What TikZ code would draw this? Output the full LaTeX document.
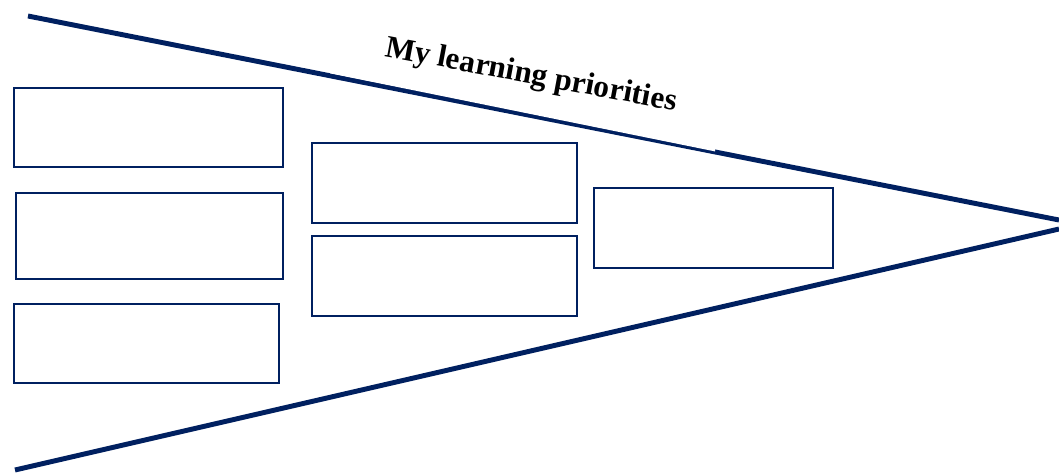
\documentclass[tikz,border=0pt]{standalone}
\usepackage{fontspec}
\setmainfont{Liberation Serif}
\usetikzlibrary{fit}
\definecolor{navy}{HTML}{002060}
\tikzset{
  box/.style={draw=navy, line width=1.5pt, inner sep=0pt, fill=none},
  rail/.style={draw=navy, line width=3.7pt, line cap=butt},
  title/.style={font=\bfseries\fontsize{23.5}{25}\selectfont, text=black, inner sep=0pt}
}
\begin{document}
\begin{tikzpicture}[x=0.75pt,y=-0.75pt]
\useasboundingbox[fill=white] (0,0) rectangle (1059,472);
% converging lines
\coordinate (ts) at (28,16);
\coordinate (te) at (1059,220);
\coordinate (bs) at (15,470);
\coordinate (be) at (1059,229);
\draw[rail] (ts) -- (te);
\draw[rail] (bs) -- (be);
% the title's white box clips the top of the upper line a little
\coordinate (w1) at (330,73.3);
\coordinate (w2) at (715,151.4);
\coordinate (w3) at (715,140);
\coordinate (w4) at (330,65);
\fill[white] (w1) -- (w2) -- (w3) -- (w4) -- cycle;
% title
\node[title, anchor=base west, rotate=-10.7] (t) at (384,56) {My learning priorities};
% boxes
\node[box, fit={(14,88)(283,167)}] (b1) {};
\node[box, fit={(16,193)(283,279)}] (b2) {};
\node[box, fit={(14,304)(279,383)}] (b3) {};
\node[box, fit={(312,143)(577,223)}] (b4) {};
\node[box, fit={(312,236)(577,316)}] (b5) {};
\node[box, fit={(594,188)(833,268)}] (b6) {};
\end{tikzpicture}
\end{document}
